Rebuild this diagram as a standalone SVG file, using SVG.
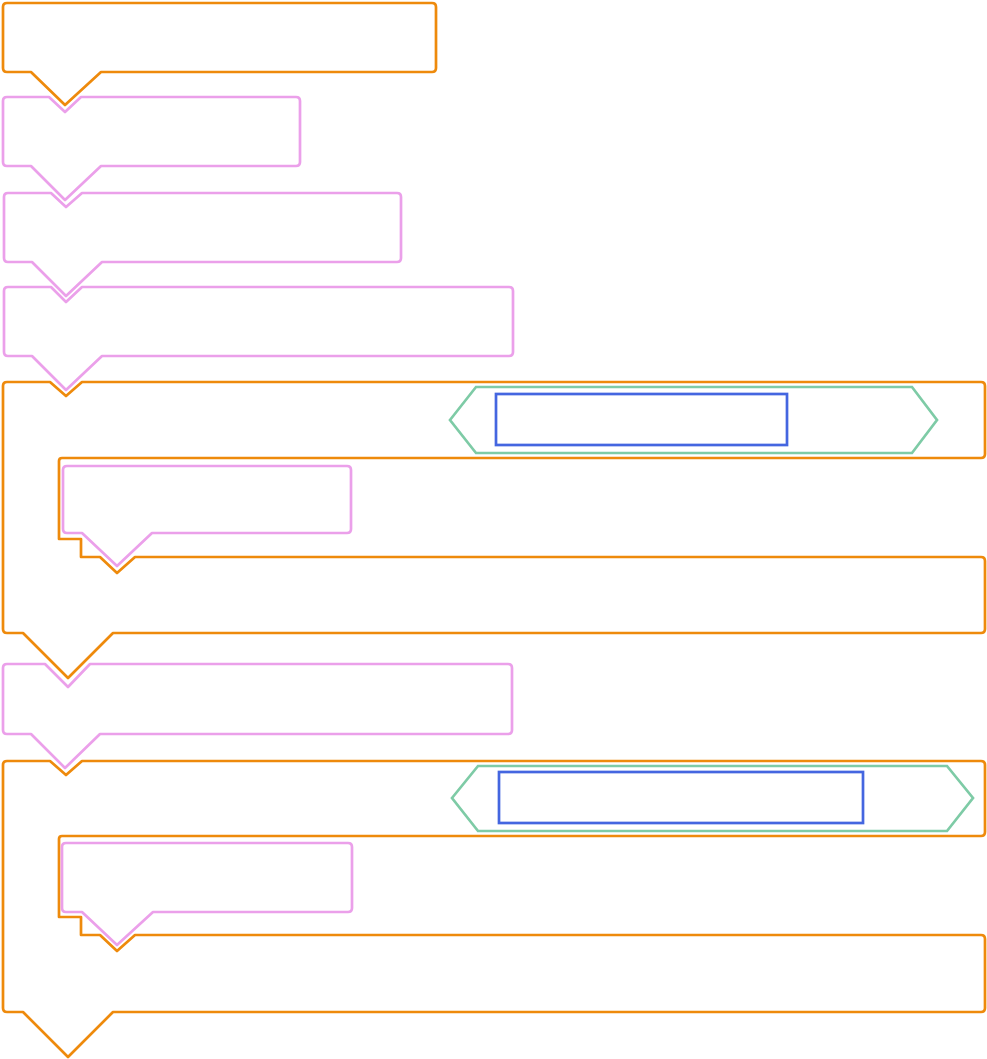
<svg xmlns="http://www.w3.org/2000/svg" width="987" height="1059" viewBox="0 0 987 1059">
<style>
.b{fill:none;stroke-width:2.7;stroke-linejoin:round}
.o{stroke:#EE8A0C}
.p{stroke:#EBA0EA}
.g{fill:none;stroke:#7ECBA6;stroke-width:2.7}
.bl{fill:none;stroke:#4466E0;stroke-width:2.7}
</style>
<rect width="987" height="1059" fill="#fff"/>
<g id="connectors"></g>
<g id="block1"><path class="b o" d="M3,7 Q3,3 7,3 H432 Q436,3 436,7 V68 Q436,72 432,72 H101 L65,105 L31,72 H7 Q3,72 3,68 Z"/></g>
<g id="block2"><path class="b p" d="M3,101 Q3,97 7,97 H49 L65,112 L81,97 H296 Q300,97 300,101 V162 Q300,166 296,166 H101 L65,200 L31,166 H7 Q3,166 3,162 Z"/></g>
<g id="block3"><path class="b p" d="M4,197 Q4,193 8,193 H51 L66,207 L82,193 H397 Q401,193 401,197 V258 Q401,262 397,262 H102 L66,296 L32,262 H8 Q4,262 4,258 Z"/></g>
<g id="block4"><path class="b p" d="M4,291 Q4,287 8,287 H51 L66,302 L82,287 H509 Q513,287 513,291 V352 Q513,356 509,356 H102 L66,390 L32,356 H8 Q4,356 4,352 Z"/></g>
<g id="block5">
<path class="b o" d="M3,386 Q3,382 7,382 H50 L66,396 L82,382 H981 Q985,382 985,386 V454 Q985,458 981,458 H62 Q59,458 59,461 V539 H81 V557 H100 L117,573 L135,557 H981 Q985,557 985,561 V629 Q985,633 981,633 H113 L68,678 L23,633 H7 Q3,633 3,629 Z"/>
<polygon class="g" points="450,420 476,387 912,387 937,420 912,453 476,453"/>
<rect class="bl" x="496" y="394" width="291" height="51"/>
</g>
<g id="block5a"><path class="b p" d="M63,470 Q63,466 67,466 H347 Q351,466 351,470 V529 Q351,533 347,533 H152 L117,566 L82,533 H67 Q63,533 63,529 Z"/></g>
<g id="block6"><path class="b p" d="M3,668 Q3,664 7,664 H45 L68,687 L90,664 H508 Q512,664 512,668 V730 Q512,734 508,734 H100 L65,768 L31,734 H7 Q3,734 3,730 Z"/></g>
<g id="block7">
<path class="b o" d="M3,765 Q3,761 7,761 H50 L66,775 L82,761 H981 Q985,761 985,765 V832 Q985,836 981,836 H62 Q59,836 59,839 V917 H81 V935 H100 L117,951 L135,935 H981 Q985,935 985,939 V1008 Q985,1012 981,1012 H113 L68,1057 L23,1012 H7 Q3,1012 3,1008 Z"/>
<polygon class="g" points="452,798 478,766 947,766 973,798 947,831 478,831"/>
<rect class="bl" x="499" y="772" width="364" height="51"/>
</g>
<g id="block7a"><path class="b p" d="M62,847 Q62,843 66,843 H348 Q352,843 352,847 V908 Q352,912 348,912 H153 L117,945 L82,912 H66 Q62,912 62,908 Z"/></g>
</svg>
